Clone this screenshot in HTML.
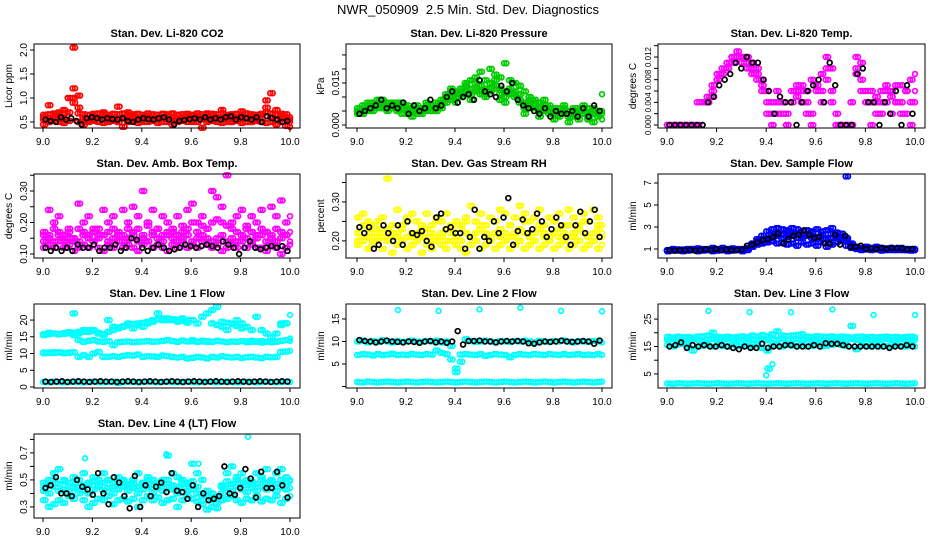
<!DOCTYPE html>
<html><head><meta charset="utf-8"><style>
html,body{margin:0;padding:0;background:#fff;}
svg{display:block;font-family:"Liberation Sans",Arial,sans-serif;}
</style></head><body>
<svg id="chart" width="936" height="540" viewBox="0 0 936 540" xmlns="http://www.w3.org/2000/svg">
<rect width="936" height="540" fill="#fff"/>
<text x="468" y="14" text-anchor="middle" font-size="13" xml:space="preserve">NWR_050909  2.5 Min. Std. Dev. Diagnostics</text>
</svg>
<script>
const xTicks = [9.0, 9.2, 9.4, 9.6, 9.8, 10.0];
const xTickLabels = ["9.0", "9.2", "9.4", "9.6", "9.8", "10.0"];

const co2Red1 = [0.6,0.85,0.65,0.7,0.75,1.0,1.2,0.8,0.6,0.55,0.62,0.6,0.7,0.62,0.6,0.82,0.6,0.7,0.62,0.6,0.6,0.62,0.6,0.65,0.6,0.62,0.6,0.65,0.6,0.62,0.6,0.62,0.6,0.68,0.62,0.6,0.75,0.6,0.62,0.6,0.72,0.6,0.62,0.6,0.65,0.95,1.1,0.75,0.62,0.6,0.55];
const co2Red2 = [0.45,0.5,0.55,0.5,0.48,0.52,0.9,0.5,0.45,0.5,0.52,0.5,0.48,0.5,0.52,0.5,0.4,0.5,0.52,0.48,0.5,0.5,0.52,0.48,0.5,0.5,0.45,0.5,0.52,0.5,0.5,0.5,0.38,0.5,0.52,0.5,0.48,0.5,0.5,0.52,0.48,0.5,0.5,0.52,0.5,0.48,0.5,0.45,0.5,0.42,0.4];
const co2Red3 = [0.55,0.58,0.56,0.57,0.55,1.0,2.05,1.05,0.56,0.57,0.55,0.58,0.56,0.55,0.57,0.56,0.58,0.55,0.56,0.57,0.55,0.58,0.56,0.55,0.57,0.56,0.58,0.55,0.56,0.57,0.55,0.58,0.56,0.55,0.57,0.56,0.58,0.55,0.56,0.57,0.55,0.58,0.56,0.55,0.57,0.8,0.6,0.55,0.57,0.56,0.5];
const co2Red4 = [0.65,0.66,0.68,0.65,0.67,0.7,1.0,0.68,0.66,0.65,0.67,0.68,0.66,0.65,0.67,0.66,0.68,0.65,0.66,0.67,0.65,0.68,0.66,0.65,0.67,0.66,0.68,0.65,0.66,0.67,0.65,0.68,0.66,0.65,0.67,0.66,0.68,0.65,0.66,0.67,0.65,0.68,0.66,0.65,0.67,0.7,0.68,0.65,0.67,0.66,0.6];
const co2Black = [0.55,0.52,0.5,0.6,0.55,0.58,0.52,0.45,0.58,0.6,0.58,0.55,0.58,0.56,0.55,0.58,0.52,0.5,0.55,0.58,0.56,0.55,0.58,0.6,0.55,0.45,0.52,0.54,0.56,0.58,0.55,0.6,0.55,0.58,0.55,0.6,0.62,0.55,0.6,0.58,0.55,0.6,0.5,0.62,0.58,0.55,0.5,0.52];

const presGreen1 = [.005,.006,.007,.006,.008,.007,.008,.007,.006,.007,.006,.005,.006,.005,.007,.006,.008,.009,.010,.012,.010,.013,.014,.016,.015,.019,.016,.020,.018,.017,.022,.016,.015,.014,.012,.010,.009,.008,.009,.007,.006,.005,.006,.004,.006,.005,.007,.004,.006,.005,.011];
const presGreen2 = [.004,.004,.005,.005,.006,.006,.005,.006,.005,.004,.004,.003,.004,.004,.005,.006,.005,.006,.008,.009,.008,.010,.011,.009,.012,.011,.010,.012,.013,.009,.008,.011,.010,.008,.004,.006,.007,.003,.005,.004,.002,.003,.004,.001,.003,.002,.004,.002,.001,.003,.002];
const presGreen3 = [.006,.007,.008,.008,.009,.009,.007,.008,.008,.008,.007,.006,.007,.006,.008,.007,.007,.008,.011,.013,.011,.012,.015,.013,.017,.014,.013,.015,.016,.013,.012,.013,.012,.011,.008,.009,.008,.006,.007,.006,.005,.006,.007,.005,.004,.006,.005,.006,.004,.005,.005];
const presGreen4 = [.005,.005,.006,.007,.007,.008,.006,.007,.007,.006,.005,.005,.005,.006,.006,.005,.006,.007,.009,.010,.012,.011,.012,.011,.013,.012,.011,.013,.014,.011,.010,.012,.011,.009,.006,.007,.006,.005,.006,.005,.004,.005,.005,.003,.005,.004,.006,.003,.005,.004,.004];
const presBlack = [.004,.005,.006,.007,.009,.006,.007,.006,.008,.004,.007,.005,.006,.009,.006,.007,.010,.012,.008,.010,.011,.009,.016,.012,.011,.010,.014,.012,.015,.009,.007,.006,.005,.004,.006,.003,.005,.004,.004,.005,.003,.006,.003,.007,.005];

const tempMag1 = [0,0,0,0,0,0,0,0.004,0.005,0.006,0.008,0.009,0.010,0.011,0.012,0.012,0.012,0.011,0.010,0.008,0.006,0.004,0.004,0.004,0.002,0.004,0.006,0.007,0.006,0.008,0.007,0.009,0.012,0.010,0.002,0,0,0,0.012,0.011,0.006,0.004,0.005,0.004,0.006,0.005,0.004,0.007,0.006,0.008,0.009];
const tempMag2 = [0,0,0,0,0,0,0.004,0.004,0.004,0.007,0.009,0.010,0.011,0.012,0.013,0.011,0.011,0.010,0.009,0.006,0.002,0,0.002,0.004,0,0.006,0.007,0.004,0.002,0,0.006,0.004,0.008,0.004,0,0,0,0.004,0.010,0.006,0.004,0,0.002,0.006,0.004,0.002,0.007,0.004,0.002,0,0.004];
const tempMag3 = [0,0,0,0,0,0,0,0.004,0.004,0.005,0.008,0.009,0.010,0.012,0.012,0.012,0.010,0.009,0.008,0.007,0.004,0.002,0.006,0.002,0,0.004,0.005,0.006,0.004,0.002,0.007,0.006,0.010,0.006,0,0,0,0,0.009,0.008,0.004,0.006,0.004,0.002,0.007,0.006,0.004,0.002,0.006,0.004,0.006];
const tempBlack = [0,0,0,0,0,0,0,0.004,0.005,0.007,0.008,0.009,0.011,0.010,0.012,0.011,0.011,0.008,0.006,0.002,0.005,0.004,0.004,0,0.004,0.006,0.007,0.008,0.004,0.011,0.007,0,0,0,0.009,0.010,0.004,0.004,0,0.004,0.002,0.006,0,0.007,0.002];

const ambMag1 = [.16,.24,.2,.22,.15,.18,.14,.26,.2,.22,.18,.16,.24,.2,.22,.16,.24,.2,.25,.22,.3,.2,.24,.18,.22,.2,.17,.22,.19,.24,.26,.2,.22,.18,.3,.28,.25,.35,.2,.22,.24,.19,.22,.2,.24,.17,.25,.22,.27,.2,.22];
const ambMag2 = [.12,.13,.12,.14,.12,.13,.11,.12,.13,.12,.14,.12,.11,.13,.12,.14,.12,.13,.12,.11,.13,.14,.12,.13,.12,.11,.13,.12,.14,.12,.13,.12,.14,.13,.12,.13,.11,.12,.13,.12,.14,.12,.13,.12,.12,.11,.13,.12,.10,.12,.13];
const ambMag3 = [.17,.16,.18,.17,.16,.17,.15,.18,.17,.16,.17,.18,.16,.17,.18,.17,.16,.18,.17,.18,.16,.19,.17,.18,.16,.17,.18,.16,.17,.18,.2,.17,.19,.18,.2,.21,.2,.19,.18,.17,.16,.18,.17,.16,.18,.17,.16,.18,.17,.16,.17];
const ambMag4 = [.14,.15,.14,.16,.14,.15,.15,.14,.16,.15,.14,.15,.16,.14,.15,.16,.14,.15,.16,.14,.15,.14,.16,.15,.14,.16,.15,.14,.15,.16,.14,.15,.16,.15,.14,.15,.16,.14,.15,.14,.16,.15,.14,.15,.16,.14,.15,.14,.15,.16,.14];
const ambBlack = [.12,.11,.12,.11,.12,.11,.13,.12,.12,.13,.11,.12,.12,.13,.11,.12,.15,.145,.12,.11,.12,.13,.12,.11,.115,.12,.13,.125,.12,.125,.13,.125,.12,.14,.13,.12,.1,.12,.14,.12,.115,.12,.125,.12,.125,.11];

const rhYel1 = [.26,.27,.25,.24,.23,.26,.36,.22,.28,.24,.26,.27,.25,.23,.27,.24,.26,.25,.27,.23,.25,.24,.26,.29,.25,.27,.24,.26,.25,.28,.27,.24,.26,.29,.27,.25,.26,.28,.24,.26,.25,.27,.24,.28,.26,.24,.27,.25,.28,.26,.24];
const rhYel2 = [.19,.2,.18,.19,.2,.18,.2,.17,.19,.2,.18,.19,.2,.17,.19,.18,.2,.19,.18,.2,.19,.18,.17,.19,.2,.18,.19,.2,.18,.19,.2,.18,.19,.2,.18,.19,.2,.18,.19,.2,.18,.19,.2,.18,.19,.2,.18,.19,.2,.18,.19];
const rhYel3 = [.22,.21,.23,.22,.21,.22,.23,.21,.22,.23,.21,.22,.22,.21,.23,.22,.21,.22,.23,.22,.21,.23,.22,.21,.22,.23,.22,.21,.22,.23,.22,.21,.22,.23,.22,.21,.22,.23,.22,.21,.22,.23,.22,.21,.22,.23,.22,.21,.22,.23,.22];
const rhYel4 = [.2,.24,.21,.2,.25,.21,.2,.24,.21,.2,.25,.21,.2,.24,.21,.2,.25,.21,.2,.24,.21,.2,.25,.21,.2,.24,.21,.2,.25,.21,.2,.24,.21,.2,.25,.21,.2,.24,.21,.2,.25,.21,.2,.24,.21,.2,.25,.21,.2,.24,.21];
const rhBlack = [.235,.22,.235,.18,.19,.24,.22,.2,.24,.19,.25,.22,.215,.225,.2,.185,.26,.27,.23,.235,.22,.22,.18,.21,.28,.18,.21,.2,.25,.22,.26,.31,.19,.225,.255,.22,.23,.27,.25,.21,.23,.26,.24,.21,.19,.24,.275,.22,.25,.28,.21];

const flowBlue1 = [.8,.85,.9,.8,.85,.9,.8,.85,.9,.8,.85,.9,.8,.85,.9,.8,.9,1.3,1.5,1.6,1.8,2.0,2.2,2.0,2.5,2.2,2.4,2.0,2.2,2.6,1.9,2.3,2.0,2.4,2.1,2.0,7.6,1.2,1.0,.9,1.0,.9,1.0,.85,.9,.95,.9,1.0,.9,.85,.9];
const flowBlue2 = [.9,1.0,.95,.9,1.0,1.0,1.05,1.0,1.0,1.1,1.0,1.1,1.0,1.05,1.0,1.0,1.1,1.5,1.9,2.2,2.6,2.8,2.9,2.8,2.7,2.9,2.8,2.6,2.7,2.5,2.8,2.6,2.7,2.9,2.5,2.4,2.0,1.5,1.2,1.1,1.2,1.1,1.2,1.1,1.0,1.1,1.0,1.1,1.0,1.0,1.0];
const flowBlue3 = [.85,.9,.85,.95,.9,.95,.9,.95,.9,.95,.9,.95,.9,.9,.95,.9,1.0,1.2,1.4,1.5,1.6,1.7,1.5,1.6,1.4,1.5,1.3,1.6,1.4,1.5,1.3,1.6,1.2,1.4,1.6,1.8,1.3,1.1,1.0,1.0,.95,1.0,.95,.9,.95,.9,.95,.9,.9,.95,.9];
const flowBlue4 = [.9,.9,.95,.9,.95,.9,.95,.9,.95,.9,.95,.9,.95,.9,.95,.9,.95,1.4,1.7,1.9,2.0,2.3,2.4,2.3,2.1,2.4,2.0,2.2,2.3,2.0,2.1,2.2,1.9,2.0,2.2,2.1,1.8,1.3,1.1,1.05,1.1,1.0,1.05,1.0,1.05,1.0,1.0,1.05,1.0,.95,1.0];
const flowBlack = [.9,.85,.9,.9,.9,.85,.9,.95,.9,1.0,.9,.95,.9,.9,.95,1.3,1.4,1.6,1.8,1.9,2.1,2.4,1.5,1.9,2.2,2.3,2.7,2.3,2.0,2.1,1.5,1.5,2.3,1.4,2.2,1.2,1.2,1.3,1.0,1.05,1.0,1.1,1.0,1.1,1.1,1.05,.95,1.0];

const l1Cyan1 = [1.5,1.4,1.6,1.5,1.4,1.5,1.6,1.5,1.4,1.5,1.6,1.5,1.4,1.5,1.6,1.2,1.5,1.6,1.5,1.4,1.5,1.6,1.5,1.4,1.5,1.6,1.5,1.4,1.5,1.6,1.5,1.4,1.5,1.6,1.5,1.4,1.5,1.6,1.5,1.4,1.5,1.6,1.5,1.4,1.5,1.6,1.5,1.4,1.5,1.6,1.5];
const l1Cyan2 = [10.3,10.2,10.4,10.3,10.2,10.3,10.4,9,9.5,9,10,10.5,9,9,9.2,9,9.3,9.5,9.4,9.7,9.0,9.2,9.1,9.0,9.4,9.2,9.0,8.8,9.0,8.5,8.7,9.0,8.8,8.5,9.0,8.8,9.2,9.0,8.8,9.0,8.7,8.9,9.0,8.8,8.6,9.0,8.9,9.0,10.5,10.6,10.8];
const l1Cyan3 = [15.5,15.8,16,15.8,15.9,16,16.2,14,13.5,13.8,14,13.6,13.5,13.7,12.5,13.4,13.5,13.6,13.4,13.5,13.6,13.7,13.5,13.6,13.8,14,13.7,13.5,13.9,13.6,13.7,13.5,13.6,13.7,13.5,13.8,13.6,13.4,13.6,13.5,13.7,13.4,13.5,13.6,13.3,13.5,13.4,13.6,13.8,14,14.5];
const l1Cyan4 = [15.8,16.2,16,15.7,16.1,16.4,22,16.5,17,16.5,17,16,15.5,20,18,17.5,18,19,17.5,18.5,18,19,19.5,22,20,20.5,20,19.5,20.5,20,20,19,21,22,23,24,18,17,19,20,19,18,17,21,17,16,15,16,19,19,21.5];
const l1Cyan5 = [10.1,10.3,10.2,10.4,10.1,10.2,15.5,16,16.5,17,16.8,16.2,15.8,16.5,17,17.8,18.2,18.5,18.8,19,19.2,19.5,20,20.2,20.5,20,20.3,20.1,19.8,19.2,14,13.6,13.8,13.5,19,18.5,19.5,19.2,18.8,18.2,17.5,13.6,13.8,13.5,13.7,13.5,13.6,13.5,18.5,19,13.8];
const l1Black = [1.6,1.5,1.6,1.7,1.5,1.6,1.7,1.6,1.5,1.6,1.7,1.6,1.6,1.5,1.6,1.7,1.6,1.5,1.6,1.7,1.6,1.5,1.6,1.7,1.6,1.5,1.6,1.7,1.6,1.5,1.6,1.7,1.6,1.5,1.6,1.7,1.6,1.5,1.6,1.7,1.6,1.5,1.6,1.7,1.6];

const l2Cyan1 = [1.0,0.9,1.1,1.0,0.9,1.0,1.1,1.0,0.9,1.0,1.1,1.0,0.9,1.0,1.1,1.0,0.9,1.0,1.1,1.0,0.9,1.0,1.1,1.0,0.9,1.0,1.1,1.0,0.9,1.0,1.1,1.0,0.9,1.0,1.1,1.0,0.9,1.0,1.1,1.0,0.9,1.0,1.1,1.0,0.9,1.0,1.1,1.0,0.9,1.0,1.1];
const l2Cyan2 = [7.0,7.2,7.1,6.9,7.2,7.0,7.1,7.3,7.0,7.1,7.0,7.2,7.1,7.0,7.2,7.1,8,7.5,7.2,6,4,7.1,7.2,7.1,7.0,7.2,6.8,7.0,7.2,7.1,7.0,6.5,7.0,7.2,7.1,7.0,7.2,7.1,7.0,7.2,7.1,7.0,7.2,7.0,7.1,7.2,7.0,7.1,7.0,7.2,7.0];
const l2Cyan3 = [10,10.2,9.8,10.1,9.9,10.3,10,9.8,10.1,9.9,10,10.2,10,9.9,10.1,10,10.2,9.8,10,9,3.2,5.5,10.5,10.1,9.9,10,10.2,10,9.8,10.1,10,9.9,10.1,10,10.2,10,9.8,10.1,10,9.9,10.1,10,10.2,10,9.8,10.1,10,9.9,10.1,10,9.8];
const l2OutT = [9.167, 9.333, 9.5, 9.667, 9.833, 10.0];
const l2OutV = [17, 16.8, 17.1, 17.5, 16.8, 16.7];
const l2Black = [10.3,10.1,10,9.8,10,10.2,10,9.9,9.8,10,9.9,9.7,10,10.1,9.8,10,9.7,10,12.3,9.3,10.1,10.1,10.2,10,10,9.8,10,10.1,10,10.1,10,9.6,9.5,9.8,10,9.9,10,10.2,10,9.9,10,10.1,10,9.5,10.2];

const l3Cyan1 = [1.5,1.4,1.6,1.5,1.4,1.5,1.6,1.5,1.4,1.5,1.6,1.5,1.4,1.5,1.6,1.5,1.4,1.5,1.6,1.5,1.4,1.5,1.6,1.5,1.4,1.5,1.6,1.5,1.4,1.5,1.6,1.5,1.4,1.5,1.6,1.5,1.4,1.5,1.6,1.5,1.4,1.5,1.6,1.5,1.4,1.5,1.6,1.5,1.4,1.5,1.6];
const l3Cyan2 = [18.5,18.3,18.6,18.4,18.5,18.3,18.6,18.7,19,20,18.5,18.4,18.6,18.3,18.5,18.7,18.4,19,18.6,19.2,18.8,19.5,20.5,19,18.8,19,19.2,19.5,18.6,18.5,18.8,18.6,18.5,18.7,18.4,18.6,18.5,18.3,18.5,18.6,18.4,18.5,18.3,18.5,18.6,18.4,18.5,18.3,18.5,18.6,18.4];
const l3Cyan3 = [15.5,15,15.8,16,15.2,13.5,15,15.3,15.5,15,15.6,15.2,15,15.5,15.3,15.1,15.4,15,15.5,14.5,13.5,15.2,15.4,15,15.5,15.3,15.1,15.5,15,15.2,15.5,15,15.3,15.6,16,15.5,15.2,22.5,14,15.3,15.1,15,15.5,15,15.2,15,15.4,15.1,15,15.5,15];
const l3Cyan4 = [17.5,17.8,17.2,17.6,17.4,17.8,17.5,17.3,17.6,17.8,17.4,17.5,17.7,17.3,17.6,17.5,17.8,17.4,17.5,17.7,17.3,17.6,17.5,17.8,17.4,17.5,17.7,17.3,17.6,17.5,17.8,17.4,17.5,17.7,17.3,17.6,17.5,17.8,17.4,17.5,17.7,17.3,17.6,17.5,17.8,17.4,17.5,17.7,17.3,17.6,17.5];
const l3DipT = [9.4, 9.405, 9.415, 9.425];
const l3DipV = [4.5, 7, 6.8, 8.5];
const l3OutT = [9.167, 9.333, 9.5, 9.667, 9.833, 10.0];
const l3OutV = [28, 27.5, 27.5, 28.5, 26.5, 26.5];
const l3Black = [15,15.5,16.5,14.5,15.5,15,15.5,15,15,15.5,15,14.5,14,15,14.5,14.5,16,14.5,15,15,15.5,15.5,15,15,15,15.5,15,16.2,16,16,15.5,15,15,15,15,15,15,15,14.5,15,15,15.5,15];

const l4Cyan1 = [.45,.5,.55,.58,.5,.48,.52,.45,.55,.48,.52,.5,.55,.5,.48,.52,.5,.47,.5,.55,.48,.52,.5,.46,.5,.68,.55,.52,.5,.48,.62,.55,.5,.42,.4,.38,.45,.55,.6,.52,.55,.5,.48,.55,.52,.58,.5,.55,.58,.52,.5];
const l4Cyan2 = [.35,.3,.32,.35,.33,.38,.36,.4,.35,.3,.33,.36,.35,.38,.32,.35,.36,.34,.36,.3,.35,.38,.35,.37,.33,.35,.36,.3,.35,.38,.36,.34,.32,.28,.3,.29,.35,.36,.38,.35,.33,.36,.35,.38,.34,.36,.35,.38,.33,.36,.38];
const l4Cyan3 = [.42,.4,.45,.42,.43,.4,.44,.45,.42,.4,.43,.45,.42,.44,.4,.43,.45,.42,.44,.4,.43,.45,.41,.44,.42,.45,.43,.4,.44,.42,.43,.4,.38,.35,.35,.33,.4,.44,.42,.45,.43,.41,.44,.42,.45,.43,.44,.42,.45,.43,.44];
const l4Cyan4 = [.48,.46,.5,.47,.49,.45,.48,.5,.46,.47,.49,.46,.48,.5,.45,.47,.49,.46,.48,.45,.47,.5,.46,.48,.47,.5,.46,.45,.48,.47,.49,.45,.4,.38,.37,.36,.46,.49,.47,.5,.48,.46,.49,.47,.5,.48,.49,.47,.5,.48,.49];
const l4OutT = [9.17, 9.5, 9.63, 9.83];
const l4OutV = [0.66, 0.69, 0.62, 0.82];
const l4Black = [.44,.46,.52,.4,.4,.38,.5,.45,.43,.39,.55,.4,.32,.52,.48,.38,.29,.53,.3,.46,.38,.45,.48,.41,.55,.42,.41,.36,.46,.3,.4,.35,.36,.38,.6,.4,.39,.44,.58,.51,.37,.56,.44,.44,.56,.46,.37];

const panels = [
 {name:"co2", title:"Stan. Dev. Li-820 CO2", ylab:"Licor ppm", col:0, row:0, ymin:0.375, ymax:2.125,
  ticks:[0.5,1.0,1.5,2.0], labels:["0.5","1.0","1.5","2.0"], color:"#ff0000",
  series:[co2Red1,co2Red2,co2Red3,co2Red4], extra:[], black:co2Black, tickFont:10},
 {name:"pressure", title:"Stan. Dev. Li-820 Pressure", ylab:"kPa", col:1, row:0, ymin:-0.00107, ymax:0.0289,
  ticks:[0,0.005,0.010,0.015,0.020,0.025], labels:["0.000","","","0.015","",""], color:"#00cc00",
  series:[presGreen1,presGreen2,presGreen3,presGreen4], extra:[], black:presBlack, tickFont:10},
 {name:"li820-temp", title:"Stan. Dev. Li-820 Temp.", ylab:"degrees C", col:2, row:0, ymin:-0.00053, ymax:0.0143,
  ticks:[0,0.002,0.004,0.006,0.008,0.010,0.012,0.014], labels:["0.000","","0.004","","0.008","","0.012",""], color:"#ff00ff",
  series:[tempMag1,tempMag2,tempMag3], extra:[], black:tempBlack, tickFont:8},
 {name:"amb-box-temp", title:"Stan. Dev. Amb. Box Temp.", ylab:"degrees C", col:0, row:1, ymin:0.0873, ymax:0.354,
  ticks:[0.10,0.15,0.20,0.25,0.30,0.35], labels:["0.10","","0.20","","0.30",""], color:"#ff00ff",
  series:[ambMag1,ambMag2,ambMag3,ambMag4], extra:[], black:ambBlack, tickFont:10},
 {name:"gas-stream-rh", title:"Stan. Dev. Gas Stream RH", ylab:"percent", col:1, row:1, ymin:0.156, ymax:0.3718,
  ticks:[0.20,0.25,0.30,0.35], labels:["0.20","","0.30",""], color:"#ffff00",
  series:[rhYel1,rhYel2,rhYel3,rhYel4], extra:[], black:rhBlack, tickFont:10},
 {name:"sample-flow", title:"Stan. Dev. Sample Flow", ylab:"ml/min", col:2, row:1, ymin:0.18, ymax:7.82,
  ticks:[1,3,5,7], labels:["1","3","5","7"], color:"#0000ff",
  series:[flowBlue1,flowBlue2,flowBlue3,flowBlue4], extra:[], black:flowBlack, tickFont:10},
 {name:"line1-flow", title:"Stan. Dev. Line 1 Flow", ylab:"ml/min", col:0, row:2, ymin:-0.3, ymax:24.8,
  ticks:[0,5,10,15,20], labels:["0","5","10","15","20"], color:"#00ffff",
  series:[l1Cyan1,l1Cyan2,l1Cyan3,l1Cyan4,l1Cyan5], extra:[], black:l1Black, tickFont:10},
 {name:"line2-flow", title:"Stan. Dev. Line 2 Flow", ylab:"ml/min", col:1, row:2, ymin:-0.33, ymax:18.33,
  ticks:[0,5,10,15], labels:["","5","10","15"], color:"#00ffff",
  series:[l2Cyan1,l2Cyan2,l2Cyan3], extra:[[l2OutT,l2OutV]], black:l2Black, tickFont:10},
 {name:"line3-flow", title:"Stan. Dev. Line 3 Flow", ylab:"ml/min", col:2, row:2, ymin:-0.13, ymax:30.5,
  ticks:[5,10,15,20,25], labels:["5","","15","","25"], color:"#00ffff",
  series:[l3Cyan1,l3Cyan2,l3Cyan3,l3Cyan4], extra:[[l3DipT,l3DipV],[l3OutT,l3OutV]], black:l3Black, tickFont:10},
 {name:"line4-flow", title:"Stan. Dev. Line 4 (LT) Flow", ylab:"ml/min", col:0, row:3, ymin:0.218, ymax:0.84,
  ticks:[0.3,0.4,0.5,0.6,0.7,0.8], labels:["0.3","","0.5","","0.7",""], color:"#00ffff",
  series:[l4Cyan1,l4Cyan2,l4Cyan3,l4Cyan4], extra:[[l4OutT,l4OutV]], black:l4Black, tickFont:10}
];

const NS = "http://www.w3.org/2000/svg";
const svg = document.getElementById("chart");
const colBox = [[34,300,43,290],[346,612,357,602],[658,925,667,915]];
const rowTop = [44,174,304,434];
const H = 84;

function mk(tag, attrs, parent) {
  const e = document.createElementNS(NS, tag);
  for (const k in attrs) e.setAttribute(k, attrs[k]);
  parent.appendChild(e);
  return e;
}

panels.forEach(p => {
  const [bx0, bx1, x9, x10] = colBox[p.col];
  const y0 = rowTop[p.row], y1 = y0 + H;
  const xs = t => x9 + (t - 9) * (x10 - x9);
  const ys = v => y1 - (v - p.ymin) / (p.ymax - p.ymin) * H;
  const g = mk("g", {}, svg);
  
  

  const t = mk("text", {x:(bx0+bx1)/2, y:y0-7, "text-anchor":"middle", "font-size":"11", "font-weight":"bold"}, g);
  
  
  t.textContent = p.title;

  const pts = mk("g", {fill:"none", "stroke-width":"1.7"}, g);
  
  
  const dot = (tv, v, color) => {
    const c = mk("circle", {cx:xs(tv).toFixed(1), cy:ys(v).toFixed(1), r:"2.4", stroke:color}, pts);
    
    
  };
  p.series.forEach((arr, k) => {
    arr.forEach((v, i) => dot(9 + i / (arr.length - 1), v, p.color));
    const other = p.series[(k + 1) % p.series.length];
    for (let i = 0; i < other.length - 1; i++) dot(9 + (i + 0.5) / (other.length - 1), other[i], p.color);
  });
  p.extra.forEach(([tt, vv]) => vv.forEach((v, i) => dot(tt[i], v, p.color)));
  p.black.forEach((v, i) => dot(9.01 + i * 0.98 / (p.black.length - 1), v, "#000"));

  const box = mk("rect", {x:bx0, y:y0, width:bx1-bx0, height:H, fill:"none", stroke:"#000", "stroke-width":"1"}, g);
  
  

  const xa = mk("g", {stroke:"#000", "stroke-width":"1"}, g);
  
  
  mk("line", {x1:xs(9), x2:xs(10), y1:y1, y2:y1}, xa);
  xTicks.forEach((tv, i) => {
    mk("line", {x1:xs(tv), x2:xs(tv), y1:y1, y2:y1+4}, xa);
    const l = mk("text", {x:xs(tv), y:y1+17, "text-anchor":"middle", "font-size":"10", stroke:"none", fill:"#000"}, xa);
    
    
    l.textContent = xTickLabels[i];
  });

  const ya = mk("g", {stroke:"#000", "stroke-width":"1"}, g);
  
  
  mk("line", {x1:bx0, x2:bx0, y1:ys(p.ticks[0]), y2:ys(p.ticks[p.ticks.length-1])}, ya);
  p.ticks.forEach((tv, i) => {
    const yy = ys(tv);
    mk("line", {x1:bx0-4, x2:bx0, y1:yy, y2:yy}, ya);
    if (p.labels[i]) {
      const l = mk("text", {x:0, y:0, transform:`translate(${bx0-7},${yy}) rotate(-90)`, "text-anchor":"middle", "font-size":p.tickFont, stroke:"none", fill:"#000"}, ya);
      
      
      l.textContent = p.labels[i];
    }
  });
  const yl = mk("text", {x:0, y:0, transform:`translate(${bx0-22},${(y0+y1)/2}) rotate(-90)`, "text-anchor":"middle", "font-size":"10"}, g);
  
  
  yl.textContent = p.ylab;
});
</script>
</body></html>
